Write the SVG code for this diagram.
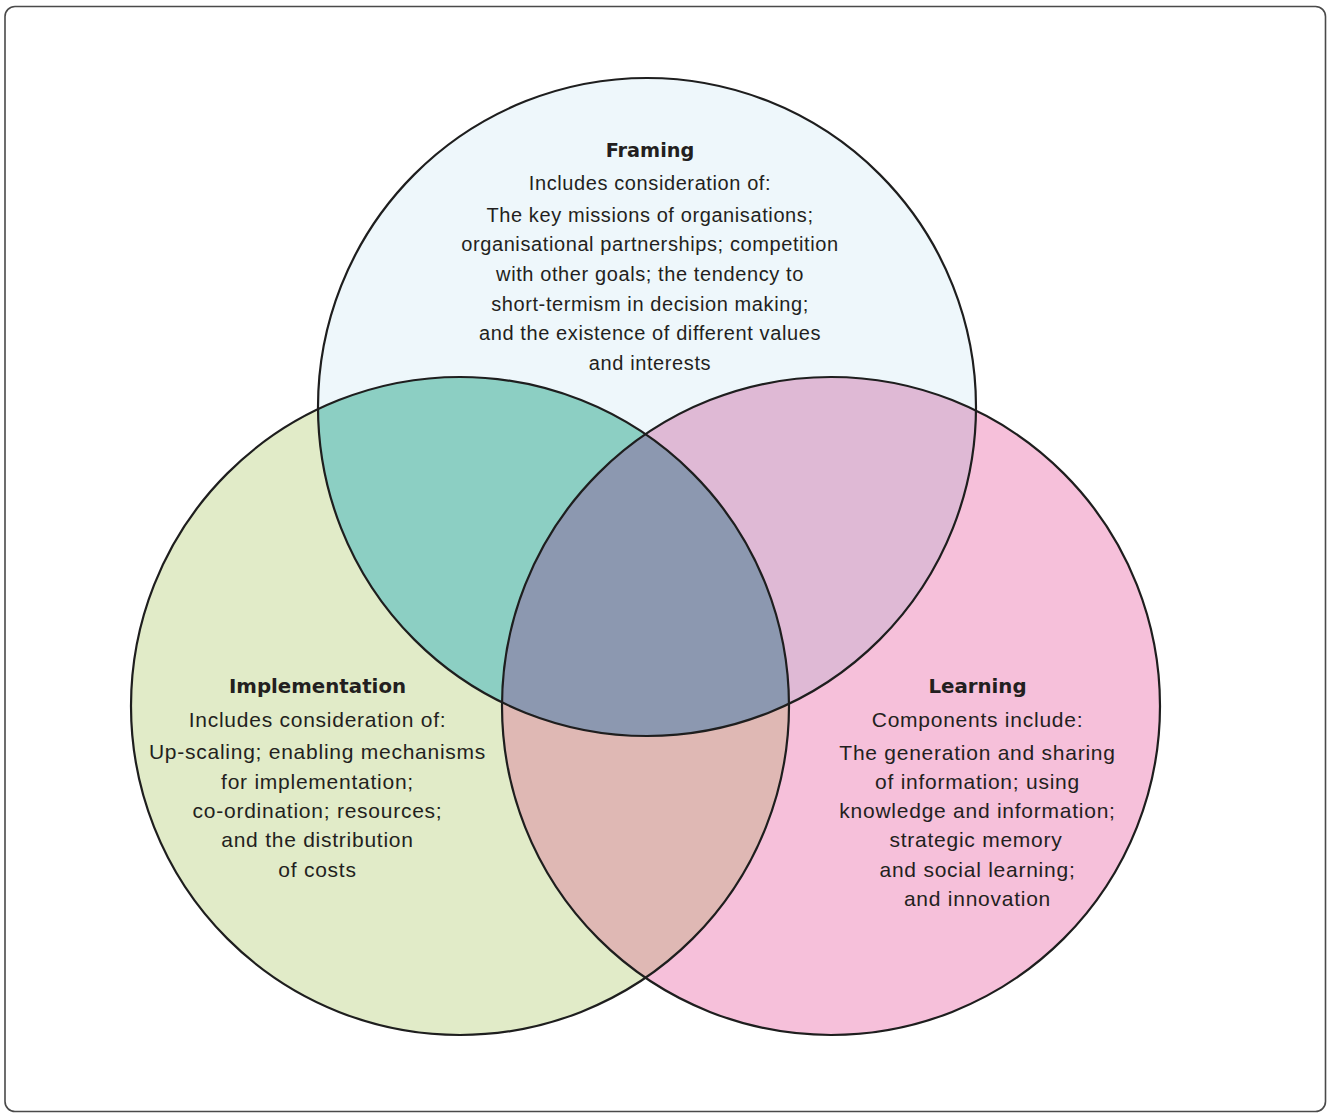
<svg xmlns="http://www.w3.org/2000/svg" width="1332" height="1113" viewBox="0 0 1332 1113">
  <style>
    .frame { fill: #ffffff; stroke: #4a4a4a; stroke-width: 1.6; }
    .ring { fill: none; stroke: #1e1e1e; stroke-width: 2.2; }
    .title { font-family: "DejaVu Sans", "Liberation Sans", sans-serif; font-weight: bold; font-size: 19.3px; fill: #231f20; text-anchor: middle; }
    .title.lg { font-size: 19.8px; }
    .body { font-family: "Liberation Sans", Arial, sans-serif; font-size: 20px; letter-spacing: 0.6px; fill: #231f20; text-anchor: middle; }
    .body.lg { font-size: 21px; letter-spacing: 0.75px; }
  </style>
  <defs>
    <clipPath id="clipFraming"><circle cx="647" cy="407" r="329"/></clipPath>
    <clipPath id="clipImpl"><circle cx="460" cy="706" r="329"/></clipPath>
    <clipPath id="clipLearning"><circle cx="831" cy="706" r="329"/></clipPath>
  </defs>

  <rect class="frame" x="5" y="6.5" width="1320.5" height="1105" rx="10"/>

  <!-- region fills: single circles first, then pairwise overlaps, then the common core -->
  <g id="regions">
    <circle cx="647" cy="407" r="329" fill="#eef7fb"/>
    <circle cx="460" cy="706" r="329" fill="#e1ebc8"/>
    <circle cx="831" cy="706" r="329" fill="#f6c0da"/>
    <g clip-path="url(#clipFraming)">
      <circle cx="460" cy="706" r="329" fill="#8ccfc3"/>
      <circle cx="831" cy="706" r="329" fill="#dfb9d5"/>
    </g>
    <g clip-path="url(#clipImpl)">
      <circle cx="831" cy="706" r="329" fill="#dfb8b4"/>
    </g>
    <g clip-path="url(#clipImpl)">
      <g clip-path="url(#clipLearning)">
        <circle cx="647" cy="407" r="329" fill="#8c98b0"/>
      </g>
    </g>
  </g>

  <g id="framing">
    <circle class="ring" cx="647" cy="407" r="329"/>
    <text class="title" x="650" y="157">Framing</text>
    <text class="body" x="650" y="190">Includes consideration of:</text>
    <text class="body" x="650" y="221.5">The key missions of organisations;</text>
    <text class="body" x="650" y="251">organisational partnerships; competition</text>
    <text class="body" x="650" y="281">with other goals; the tendency to</text>
    <text class="body" x="650" y="310.5">short-termism in decision making;</text>
    <text class="body" x="650" y="340">and the existence of different values</text>
    <text class="body" x="650" y="369.5">and interests</text>
  </g>

  <g id="implementation">
    <circle class="ring" cx="460" cy="706" r="329"/>
    <text class="title lg" x="317.5" y="693">Implementation</text>
    <text class="body lg" x="317.5" y="727">Includes consideration of:</text>
    <text class="body lg" x="317.5" y="759">Up-scaling; enabling mechanisms</text>
    <text class="body lg" x="317.5" y="788.5">for implementation;</text>
    <text class="body lg" x="317.5" y="818">co-ordination; resources;</text>
    <text class="body lg" x="317.5" y="847">and the distribution</text>
    <text class="body lg" x="317.5" y="876.5">of costs</text>
  </g>

  <g id="learning">
    <circle class="ring" cx="831" cy="706" r="329"/>
    <text class="title lg" x="977.5" y="693">Learning</text>
    <text class="body lg" x="977.5" y="727">Components include:</text>
    <text class="body lg" x="977.5" y="759.5">The generation and sharing</text>
    <text class="body lg" x="977.5" y="789">of information; using</text>
    <text class="body lg" x="977.5" y="818">knowledge and information;</text>
    <text class="body lg" x="976" y="847">strategic memory</text>
    <text class="body lg" x="977.5" y="876.5">and social learning;</text>
    <text class="body lg" x="977.5" y="905.5">and innovation</text>
  </g>
</svg>
